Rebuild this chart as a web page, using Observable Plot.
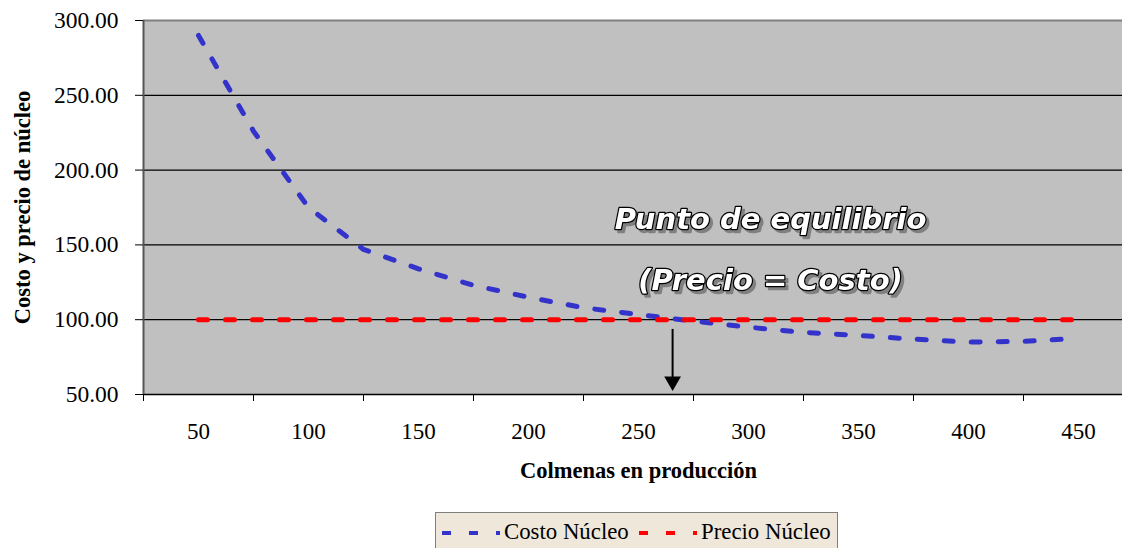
<!DOCTYPE html>
<html><head><meta charset="utf-8">
<script src="https://cdn.jsdelivr.net/npm/d3@7"></script>
<script src="https://cdn.jsdelivr.net/npm/@observablehq/plot@0.6"></script>
<style>
html,body{margin:0;padding:0;background:#fff;overflow:hidden;width:1122px;height:548px}
#chart{position:absolute;left:0;top:0}
#legend{position:absolute;left:435px;top:512px;width:401px;height:42px;background:#efe8da;border:1px solid #7f7f7f;font-family:"Liberation Serif",serif;font-size:22.8px;color:#000}
#legend .s{position:absolute;top:14px}
#legend .t{position:absolute;top:6px;line-height:26px;white-space:nowrap}
</style></head><body><div id="chart"></div><div id="legend"></div>
<script>
// Data
const colmenas = [50,75,100,125,150,175,200,225,250,275,300,325,350,375,400,425,450];
const costoNucleo = [290,226,175,147,134,123,115,108,103.5,99,95,91.5,89.5,87,85,85.5,87.5];
const precioNucleo = [100,100,100,100,100,100,100,100,100,100,100,100,100,100,100,100,100];
const xLabels = [50,100,150,200,250,300,350,400,450];
const xTickMarks = [25,75,125,175,225,275,325,375,425,475];
const yTicks = [50,100,150,200,250,300];
const seriesNames = ["Costo Núcleo","Precio Núcleo"];
const seriesColors = ["#3333cc","#ff0000"];
const annotationLines = ["Punto de equilibrio","(Precio = Costo)"];
const annotationX = [310,310];
const annotationY = [167,126];
const equilibrio = [{x:265.5, top:93.5, bottom:57, head:58.8}];
const xTitle = "Colmenas en producción";
const yTitle = "Costo y precio de núcleo";

const data = colmenas.map((c,i)=>({c, costo:costoNucleo[i], precio:precioNucleo[i]}));
const ann = annotationLines.map((t,i)=>({t, x:annotationX[i], y:annotationY[i]}));
const serif = "Liberation Serif";
const annFont = "DejaVu Sans";

const chart = Plot.plot({
  width:1122, height:500,
  marginTop:20, marginBottom:106, marginLeft:143, marginRight:0,
  x:{type:"linear", domain:[25,475], range:[143,1133]},
  y:{domain:[50,300], range:[394,20]},
  style:{fontFamily:serif, fontSize:"23px", color:"#000", background:"transparent", overflow:"visible"},
  marks:[
    Plot.frame({fill:"#c0c0c0", stroke:null}),
    Plot.ruleY(yTicks.filter(d=>d>50 && d<300), {stroke:"#000", strokeWidth:1.2}),
    Plot.ruleY([300], {stroke:"#808080", strokeWidth:2}),
    Plot.ruleY([50], {stroke:"#000", strokeWidth:1.5}),
    Plot.ruleX([25], {stroke:"#555", strokeWidth:2}),
    Plot.axisY(yTicks, {tickSize:8, tickPadding:17, tickFormat:d=>d.toFixed(2), fontSize:23.5, fontFamily:serif, stroke:"#000", label:null}),
    Plot.axisX(xTickMarks, {tickSize:7, tickFormat:()=>"", stroke:"#000", label:null}),
    Plot.axisX(xLabels, {tickSize:0, tickPadding:28, fontSize:23, fontFamily:serif, label:null}),
    Plot.text([yTitle], {frameAnchor:"left", textAnchor:"middle", lineAnchor:"middle", dx:-121, rotate:-90, fontSize:22.5, fontWeight:"bold", fontFamily:serif, fill:"#000"}),
    Plot.text([xTitle], {frameAnchor:"bottom", textAnchor:"middle", lineAnchor:"middle", dx:5.5, dy:76, fontSize:22.5, fontWeight:"bold", fontFamily:serif, fill:"#000"}),
    Plot.line(data, {x:"c", y:"costo", stroke:seriesColors[0], strokeWidth:5, strokeDasharray:"9,18"}),
    Plot.line(data, {x:"c", y:"precio", stroke:seriesColors[1], strokeWidth:5, strokeDasharray:"9,18"}),
    Plot.ruleX(equilibrio, {x:"x", y1:"top", y2:"bottom", stroke:"#000", strokeWidth:2}),
    Plot.dot(equilibrio, {x:"x", y:"head", symbol:"triangle2", r:8, rotate:180, fill:"#000", stroke:null}),
    Plot.text(ann, {x:"x", y:"y", text:"t", fill:"#fff", stroke:"#000", strokeWidth:2.5, paintOrder:"stroke", fontSize:29, fontWeight:"bold", fontStyle:"italic", fontFamily:annFont})
  ]
});
// grey drop shadow on the annotation text
d3.select(chart).selectAll("text")
  .filter(function(){ return annotationLines.includes(this.textContent); })
  .style("filter", "drop-shadow(3px 3px 0px #808080)");
document.getElementById("chart").appendChild(chart);

// Legend
const legend = document.getElementById("legend");
const sampleX = [6, 203];
const textX = [68, 265];
seriesNames.forEach((name,i)=>{
  const s = document.createElementNS("http://www.w3.org/2000/svg","svg");
  s.setAttribute("class","s"); s.setAttribute("width","58"); s.setAttribute("height","12");
  s.style.left = sampleX[i]+"px";
  const l = document.createElementNS("http://www.w3.org/2000/svg","line");
  l.setAttribute("x1","0"); l.setAttribute("x2","58"); l.setAttribute("y1","6"); l.setAttribute("y2","6");
  l.setAttribute("stroke",seriesColors[i]); l.setAttribute("stroke-width","4"); l.setAttribute("stroke-dasharray","9,18");
  s.appendChild(l); legend.appendChild(s);
  const t = document.createElement("span"); t.className="t"; t.textContent=name; t.style.left=textX[i]+"px";
  legend.appendChild(t);
});
</script></body></html>
